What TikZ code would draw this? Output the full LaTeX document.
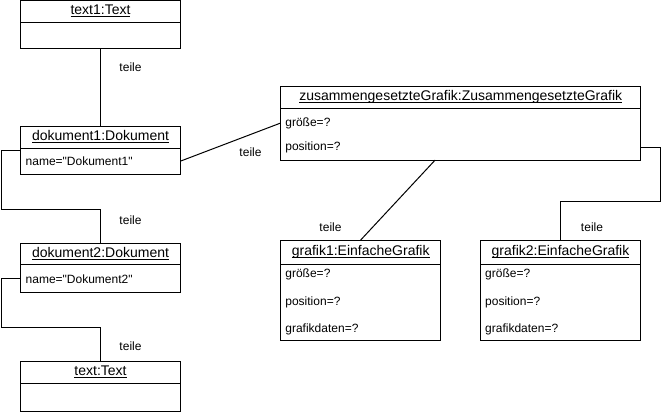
\documentclass[tikz,border=0pt]{standalone}
\usepackage{fontspec}
\setmainfont{Liberation Sans}[Ligatures=TeXOff]
\usepackage{tikz}
\usetikzlibrary{positioning, calc}

\newcommand{\objname}[1]{\underline{\smash{#1}}\vphantom{Ag}}

\begin{document}
\begin{tikzpicture}[
  x=1pt, y=-1pt,
  objhead/.style={rectangle, draw, line width=1pt, outer sep=0pt, inner sep=0pt, minimum width=160pt, minimum height=22pt, font=\fontsize{14}{16}\selectfont},
  objbody/.style={rectangle, draw, line width=1pt, outer sep=0pt, inner sep=0pt, minimum width=160pt},
  attr/.style={inner sep=0pt, anchor=west, font=\fontsize{12}{14}\selectfont},
  lbl/.style={inner sep=0pt, font=\fontsize{12}{14}\selectfont},
  link/.style={line width=1pt}
]
  \useasboundingbox (0,0) rectangle (662,415);

  % Dokumente und Texte links
  \node[objhead] (t1h) at (100.5,11.5) {\objname{text1:Text}};
  \node[objbody, minimum height=25.5pt, below=0pt of t1h] (t1b) {};

  \node[objhead, minimum height=21.5pt] (d1h) at (100.5,137.5) {\objname{dokument1:Dokument}};
  \node[objbody, minimum height=25.75pt, below=0pt of d1h] (d1b) {};
  \node[attr, right=5pt of d1b.west] (d1a) {name="Dokument1"};

  \node[objhead, minimum height=21.5pt] (d2h) at (100.5,254.2) {\objname{dokument2:Dokument}};
  \node[objbody, minimum height=27.75pt, below=0pt of d2h] (d2b) {};
  \node[attr, right=5pt of d2b.west] (d2a) {name="Dokument2"};

  \node[objhead, minimum height=21.5pt] (tth) at (100.5,372.5) {\objname{text:Text}};
  \node[objbody, minimum height=28.5pt, below=0pt of tth] (ttb) {};

  % Grafiken rechts
  \node[objhead, minimum width=360pt] (zh) at (460.7,97.5) {\objname{zusammengesetzteGrafik:ZusammengesetzteGrafik}};
  \node[objbody, minimum width=360pt, minimum height=51.5pt, below=0pt of zh] (zb) {};
  \node[attr] (za1) at ([xshift=4.5pt,yshift=-14.5pt]zb.north west) {größe=?};
  \node[attr] (za2) at ([xshift=4.5pt,yshift=-38.5pt]zb.north west) {position=?};

  \node[objhead, minimum height=24pt] (g1h) at (360.7,252) {\objname{grafik1:EinfacheGrafik}};
  \node[objbody, minimum height=76pt, below=0pt of g1h] (g1b) {};
  \node[attr] (g1a1) at ([xshift=4.5pt,yshift=-10.5pt]g1b.north west) {größe=?};
  \node[attr] (g1a2) at ([xshift=4.5pt,yshift=-38.5pt]g1b.north west) {position=?};
  \node[attr] (g1a3) at ([xshift=4.5pt,yshift=-65pt]g1b.north west) {grafikdaten=?};

  \node[objhead, minimum height=24pt] (g2h) at (560.5,252) {\objname{grafik2:EinfacheGrafik}};
  \node[objbody, minimum height=76pt, below=0pt of g2h] (g2b) {};
  \node[attr] (g2a1) at ([xshift=4.5pt,yshift=-10.5pt]g2b.north west) {größe=?};
  \node[attr] (g2a2) at ([xshift=4.5pt,yshift=-38.5pt]g2b.north west) {position=?};
  \node[attr] (g2a3) at ([xshift=4.5pt,yshift=-65pt]g2b.north west) {grafikdaten=?};

  % Verbindungen
  \draw[link] (t1b.south) -- (d1h.north);
  \draw[link] ([yshift=-2pt]d1b.north west) -- ++(-19,0) |- ([yshift=34pt]d2h.north) -- (d2h.north);
  \draw[link] (d2b.west) -- ++(-19,0) |- ([yshift=34.5pt]tth.north) -- (tth.north);
  \draw[link] (d1b.east) -- (zb.west |- za1.west);
  \draw[link] ([xshift=-25.5pt]zb.south) -- (g1h.north);
  \draw[link] (zb.east |- za2.west) -- ++(19.5,0) |- ([yshift=39pt]g2h.north) -- (g2h.north);

  \node[lbl] (l1) at (130.5,67) {teile};
  \node[lbl] (l2) at (130.5,220) {teile};
  \node[lbl] (l3) at (130.5,346) {teile};
  \node[lbl] (l4) at (250.5,152) {teile};
  \node[lbl] (l5) at (330.5,227) {teile};
  \node[lbl] (l6) at (592,227) {teile};
\end{tikzpicture}
\end{document}
